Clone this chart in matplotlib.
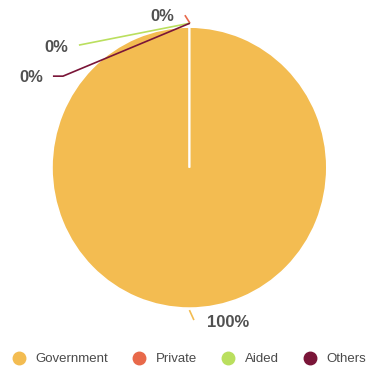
import matplotlib
matplotlib.use("Agg")
import matplotlib.pyplot as plt
from matplotlib.lines import Line2D
import numpy as np

categories = ["Government", "Private", "Aided", "Others"]
values = [100, 0, 0, 0]
labels = ["100%", "0%", "0%", "0%"]
colors = ["#F3BC51", "#E8694A", "#BADF5E", "#7A1538"]

fig = plt.figure(figsize=(3.66, 3.69), dpi=100)
ax = fig.add_axes([0.142, 0.165, 0.751, 0.7615])
wedges, _ = ax.pie(values, colors=colors, startangle=90, counterclock=False,
                   wedgeprops=dict(edgecolor="white", linewidth=1.2))
ax.set_aspect("auto")
ax.set_xlim(-1, 1)
ax.set_ylim(-1, 1)
ax.axis("off")

# leader-line layouts (start, optional bend, end, text anchor)
layout = {
    "Government": dict(pts=[(0.0, -1.014), (0.033, -1.085)], txt=(0.125, -1.10), ha="left"),
    "Private": dict(pts=[(0.004, 1.028), (-0.033, 1.085)], txt=(-0.11, 1.078), ha="right"),
    "Aided": dict(pts=[(0.004, 1.028), (-0.804, 0.872)], txt=(-0.88, 0.858), ha="right"),
    "Others": dict(pts=[(0.004, 1.028), (-0.92, 0.651), (-0.993, 0.651)], txt=(-1.065, 0.644), ha="right"),
}

for cat, lab, col in zip(categories, labels, colors):
    lay = layout[cat]
    xs = [p[0] for p in lay["pts"]]
    ys = [p[1] for p in lay["pts"]]
    ax.plot(xs, ys, color=col, lw=1.2, clip_on=False, solid_capstyle="butt")
    ax.text(lay["txt"][0], lay["txt"][1], lab, ha=lay["ha"], va="center",
            fontsize=12, fontweight="bold", color="#505050",
            family=["Liberation Sans", "DejaVu Sans"], clip_on=False)

handles = [Line2D([0], [0], marker="o", linestyle="none", markersize=9,
                  markerfacecolor=c, markeredgecolor=c) for c in colors]
fig.legend(handles, categories, loc="center", bbox_to_anchor=(0.519, 0.027),
           ncol=4, frameon=False, handlelength=0.8, handletextpad=0.85,
           columnspacing=1.95, borderpad=0, borderaxespad=0,
           prop=dict(family=["Liberation Sans", "DejaVu Sans"], size=9.5),
           labelcolor="#4a4a4a")

fig.savefig("out.png", dpi=100)
